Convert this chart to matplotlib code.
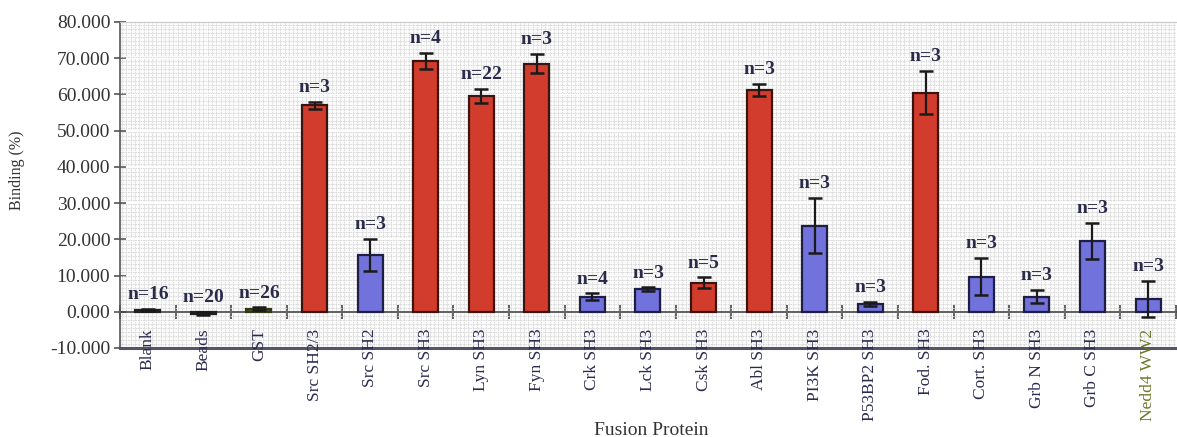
import matplotlib
matplotlib.use("Agg")
import matplotlib.pyplot as plt
import numpy as np
from matplotlib.ticker import FormatStrFormatter, MultipleLocator, FixedLocator

# Binding of each fusion protein (%), with error and replicate count
proteins = ["Blank", "Beads", "GST", "Src SH2/3", "Src SH2", "Src SH3", "Lyn SH3",
            "Fyn SH3", "Crk SH3", "Lck SH3", "Csk SH3", "Abl SH3", "PI3K SH3",
            "P53BP2 SH3", "Fod. SH3", "Cort. SH3", "Grb N SH3", "Grb C SH3", "Nedd4 WW2"]
binding = [0.5, -0.5, 0.8, 57.0, 15.7, 69.3, 59.5, 68.5, 4.2, 6.2, 8.0, 61.3,
           23.8, 2.2, 60.5, 9.7, 4.2, 19.6, 3.5]
errors = [0.4, 0.3, 0.4, 1.0, 4.5, 2.2, 2.0, 2.7, 0.9, 0.6, 1.5, 1.7,
          7.7, 0.5, 6.0, 5.2, 1.8, 5.0, 5.0]
n_reps = [16, 20, 26, 3, 3, 4, 22, 3, 4, 3, 5, 3, 3, 3, 3, 3, 3, 3, 3]
groups = ["ctrl", "ctrl", "gst", "r", "b", "r", "r", "r", "b", "b", "r", "r",
          "b", "b", "r", "b", "b", "b", "b"]

fill = {"ctrl": "#3a3a36", "gst": "#4d5a2a", "r": "#d23c2c", "b": "#7272dc"}
edge = {"ctrl": "#202020", "gst": "#303818", "r": "#3a1410", "b": "#1e1e44"}

serif = ["Liberation Serif", "DejaVu Serif"]
plt.rcParams["font.family"] = serif

fig = plt.figure(figsize=(11.77, 4.37), dpi=100)
ax = fig.add_axes([0.102, 0.2037, 0.897, 0.746])

x = np.arange(len(proteins))
ax.bar(x, binding, width=0.45,
       color=[fill[g] for g in groups],
       edgecolor=[edge[g] for g in groups], linewidth=1.6, zorder=3)
ax.errorbar(x, binding, yerr=errors, fmt="none", ecolor="#1a1a1a",
            elinewidth=1.6, capsize=5, capthick=1.8, zorder=4)

for xi, v, e, n in zip(x, binding, errors, n_reps):
    top = max(v + e, 0.0)
    ax.annotate(f"n={n}", (xi, top), xytext=(0, 4), textcoords="offset points",
                ha="center", va="bottom", fontsize=14, fontweight="bold",
                color="#2a2a4a", zorder=5)

ax.set_xlim(-0.5, len(proteins) - 0.5)
ax.set_ylim(-10, 80)

# fine background grid
ax.set_facecolor("#fbfbfb")
ax.xaxis.set_minor_locator(MultipleLocator(1 / 13))
ax.yaxis.set_minor_locator(MultipleLocator(1.1))
ax.grid(which="minor", color="#d6d6d6", linewidth=0.6, linestyle=(0, (2, 1)), zorder=0)
ax.grid(which="major", axis="y", color="#ffffff", linewidth=1.6, zorder=1)
ax.tick_params(which="minor", length=0)

# category axis sits on zero; ticks between categories
ax.spines["bottom"].set_position(("data", 0))
ax.spines["bottom"].set_color("#444444")
ax.spines["bottom"].set_linewidth(1.2)
ax.spines["bottom"].set_zorder(2)
ax.xaxis.set_major_locator(FixedLocator(np.arange(len(proteins) + 1) - 0.5))
ax.xaxis.set_major_formatter(plt.NullFormatter())
ax.tick_params(axis="x", which="major", direction="inout", length=10,
               width=1.2, color="#444444")
ax.axhline(-10, color="#555566", linewidth=2.2, zorder=2, clip_on=False)

for xi, name in zip(x, proteins):
    col = "#6a7a2a" if name.startswith("Nedd4") else "#2b2b50"
    ax.annotate(name, (xi, 0), xytext=(0, -12), textcoords="offset points",
                rotation=90, ha="center", va="top", fontsize=12.5, color=col)

ax.spines["left"].set_color("#555555")
ax.spines["left"].set_linewidth(1.2)
ax.spines["top"].set_color("#c8c8c8")
ax.spines["right"].set_visible(False)

ax.yaxis.set_major_locator(MultipleLocator(10))
ax.yaxis.set_major_formatter(FormatStrFormatter("%.3f"))
ax.tick_params(axis="y", which="major", direction="inout", length=8, width=1.2,
               color="#555555", labelsize=14, labelcolor="#333333", pad=3)

ax.set_ylabel("Binding (%)", fontsize=11.5, color="#333333")
ax.yaxis.set_label_coords(-0.09, 0.545)
fig.text(0.553, 0.016, "Fusion Protein", ha="center", va="center",
         fontsize=14, color="#333333")

fig.savefig("out.png", dpi=100)
